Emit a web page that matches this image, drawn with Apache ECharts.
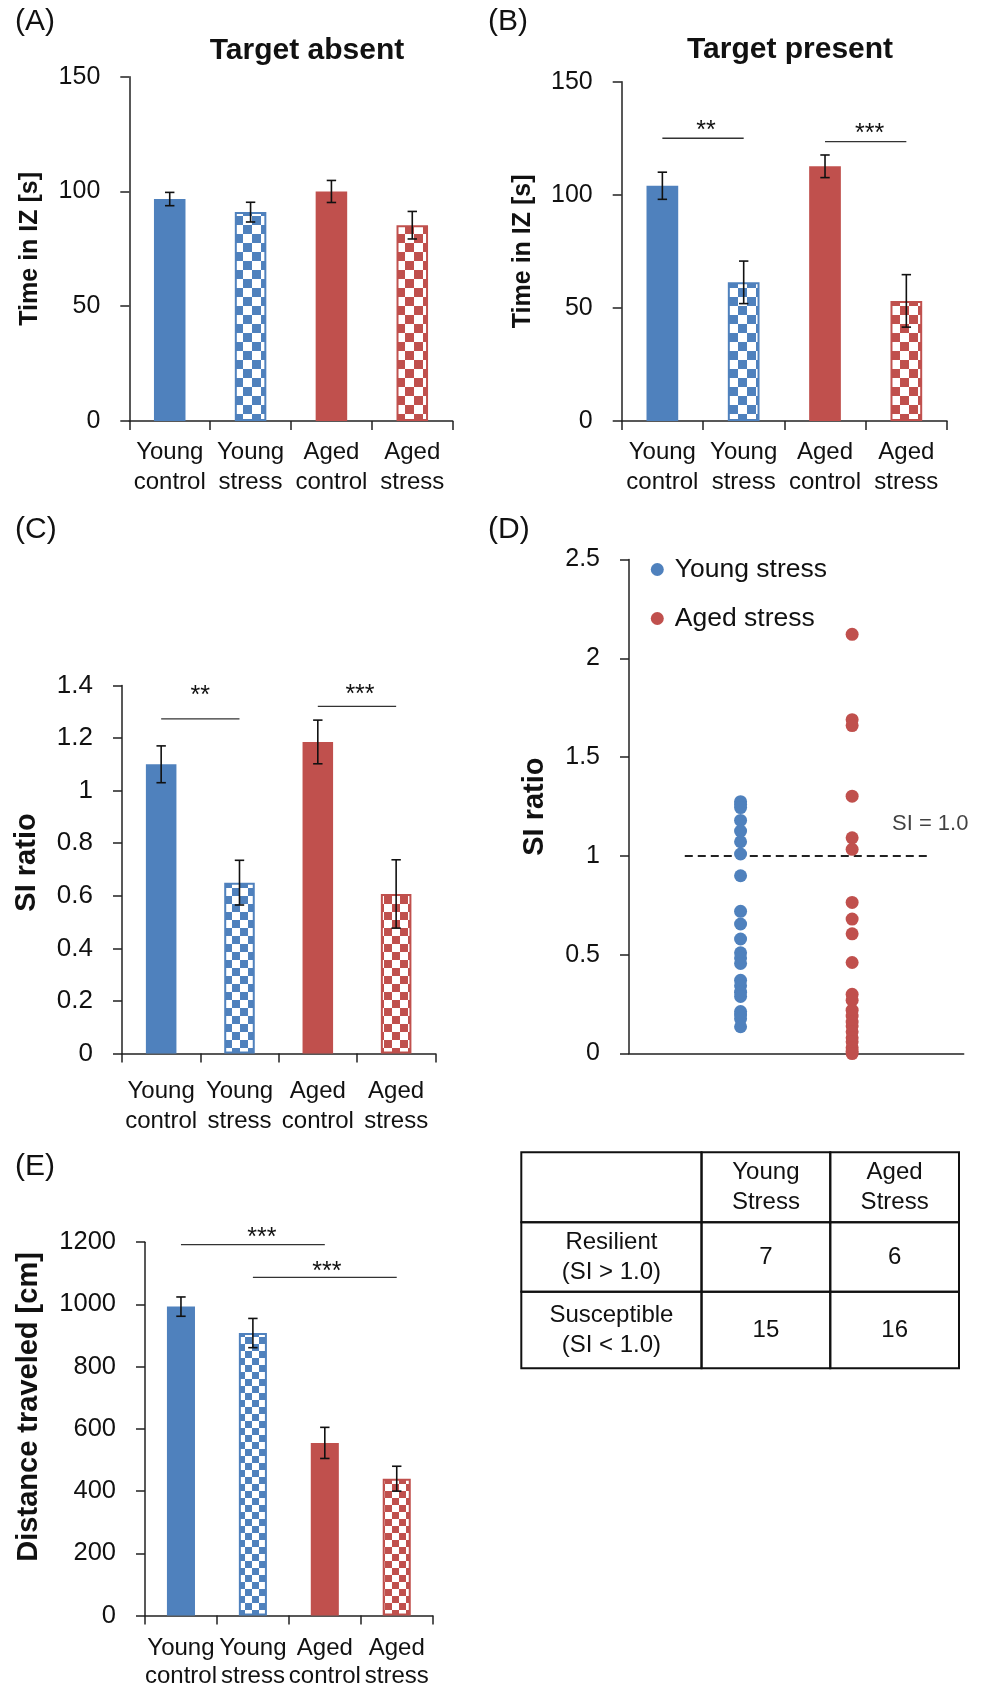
<!DOCTYPE html>
<html>
<head>
<meta charset="utf-8">
<script src="https://cdn.jsdelivr.net/npm/echarts@6.0.0/dist/echarts.min.js"></script>
<style>
html,body{margin:0;padding:0;background:#fff;}
#chart{width:987px;height:1688px;}
</style>
</head>
<body>
<div id="chart"></div>
<script>
// ---------------- data ----------------
const categories = ['Young\ncontrol', 'Young\nstress', 'Aged\ncontrol', 'Aged\nstress'];

const absentMean = [96.7, 91.0, 100.0, 85.3];
const absentErr  = [2.9, 4.3, 4.8, 6.0];

const presentMean = [104.0, 61.3, 112.6, 53.1];
const presentErr  = [6.0, 9.4, 5.0, 11.6];

const siMean = [1.10, 0.65, 1.185, 0.607];
const siErr  = [0.07, 0.085, 0.083, 0.13];

const distMean = [993, 908, 555, 440];
const distErr  = [31, 47, 50, 40];

// significance bars: [from category, to category, bar level, stars]
const sigPresent = [[0, 1, 125, '**'], [2, 3, 123.5, '***']];
const sigSI      = [[0, 1, 1.273, '**'], [2, 3, 1.32, '***']];
const sigDist    = [[0, 2, 1192, '***'], [1, 3, 1087, '***']];

// individual SI ratios (panel D)
const youngStressSI = [1.275, 1.26, 1.245, 1.18, 1.126, 1.072, 1.01,
  0.90, 0.72, 0.656, 0.58, 0.51, 0.484, 0.456, 0.371, 0.343, 0.311, 0.289, 0.213, 0.195, 0.176, 0.136];
const agedStressSI = [2.122, 1.69, 1.66, 1.303, 1.092, 1.034,
  0.765, 0.681, 0.606, 0.461, 0.30, 0.27, 0.22, 0.19, 0.16, 0.14, 0.11, 0.08, 0.06, 0.03, 0.012, 0.0];
const siThreshold = 1.0;
const siThresholdSpan = [0.5, 2.67];

// axis ticks
const ticksIZ   = {min: 0, max: 150, step: 50};
const ticksSI   = {min: 0, max: 1.4, step: 0.2};
const ticksSID  = {min: 0, max: 2.5, step: 0.5};
const ticksDist = {min: 0, max: 1200, step: 200};

// table
const tableColHeaders = ['Young\nStress', 'Aged\nStress'];
const tableRowHeaders = ['Resilient\n(SI > 1.0)', 'Susceptible\n(SI < 1.0)'];
const tableCounts = [[7, 6], [15, 16]];

// ---------------- style ----------------
const BLUE = '#4F81BD', RED = '#C0504D';
const INK = '#111';
const AX = '#222';
const FONT = "'Liberation Sans', Arial, Helvetica, sans-serif";

function checker(color, s) {
  const c = document.createElement('canvas');
  c.width = c.height = 2 * s;
  const g = c.getContext('2d');
  g.fillStyle = '#fff'; g.fillRect(0, 0, 2 * s, 2 * s);
  g.fillStyle = color; g.fillRect(0, 0, s, s); g.fillRect(s, s, s, s);
  return {image: c, repeat: 'repeat'};
}
function barItems(vals, s) {
  const edge = [BLUE, BLUE, RED, RED];
  return vals.map((v, i) => ({
    value: v,
    itemStyle: {
      color: i % 2 ? checker(edge[i], s) : edge[i],
      borderColor: edge[i],
      borderWidth: i % 2 ? 2 : 0
    }
  }));
}

const grids = [
  {left: 129.3, top: 76.7, width: 323.4, height: 344.3},   // A
  {left: 621.7, top: 81.7, width: 325.3, height: 339.3},   // B
  {left: 122, top: 685.4, width: 313.3, height: 368.2},    // C
  {left: 629, top: 559.6, width: 334.7, height: 494},      // D
  {left: 145, top: 1242.2, width: 287.7, height: 373.4},   // E
  {left: 521.3, top: 1152.3, width: 437.7, height: 216}    // table
].map(g => Object.assign({containLabel: false, outerBoundsMode: 'none'}, g));

function catX(gi, margin, lh) {
  return {
    type: 'category', gridIndex: gi, data: categories,
    axisLine: {lineStyle: {color: AX, width: 1.5}},
    axisTick: {show: true, length: 9, alignWithLabel: false, lineStyle: {color: AX, width: 1.5}},
    axisLabel: {interval: 0, margin: margin, color: INK, fontSize: 24, lineHeight: lh, fontFamily: FONT},
    splitLine: {show: false}
  };
}
function valY(gi, t, name, nameGap, nameSize, shift, labelSize) {
  return {
    type: 'value', gridIndex: gi, min: t.min, max: t.max, interval: t.step,
    name: name, nameLocation: 'middle', nameGap: nameGap, nameRotate: 90,
    nameTextStyle: {fontSize: nameSize, fontWeight: 'bold', color: INK, fontFamily: FONT,
      padding: shift ? [0, 0, 0, shift] : 0},
    axisLine: {show: true, lineStyle: {color: AX, width: 1.5}},
    axisTick: {show: true, length: 9, lineStyle: {color: AX, width: 1.5}},
    axisLabel: {margin: 29, fontSize: labelSize || 25, color: INK, fontFamily: FONT,
      formatter: v => String(+(+v).toFixed(6))},
    splitLine: {show: false}
  };
}

function barSeries(idx, vals, s) {
  return {type: 'bar', xAxisIndex: idx, yAxisIndex: idx, data: barItems(vals, s),
    barWidth: '39%', silent: true, z: 2};
}
function errSeries(idx, means, errs) {
  return {
    type: 'custom', xAxisIndex: idx, yAxisIndex: idx, silent: true, clip: false, z: 5,
    data: means.map((m, i) => [i, m, errs[i]]),
    renderItem(params, api) {
      const x = api.value(0), m = api.value(1), e = api.value(2);
      const t = api.coord([x, m + e]), b = api.coord([x, m - e]);
      const hw = 4.7, st = {stroke: '#111', lineWidth: 1.6};
      return {type: 'group', children: [
        {type: 'line', shape: {x1: t[0], y1: t[1], x2: b[0], y2: b[1]}, style: st},
        {type: 'line', shape: {x1: t[0] - hw, y1: t[1], x2: t[0] + hw, y2: t[1]}, style: st},
        {type: 'line', shape: {x1: b[0] - hw, y1: b[1], x2: b[0] + hw, y2: b[1]}, style: st}
      ]};
    }
  };
}
function sigSeries(idx, pairs, offs) {
  return {
    type: 'custom', xAxisIndex: idx, yAxisIndex: idx, silent: true, clip: false, z: 5,
    data: pairs.map(p => [p[0], p[2], p[1]]),
    renderItem(params, api) {
      const i = params.dataIndex, lvl = api.value(1);
      const a = api.coord([api.value(0), lvl]), b = api.coord([api.value(2), lvl]);
      const o = offs[i];
      return {type: 'group', children: [
        {type: 'line', shape: {x1: a[0], y1: a[1], x2: b[0], y2: b[1]}, style: {stroke: '#333', lineWidth: 1.3}},
        {type: 'text', style: {text: pairs[i][3], x: (a[0] + b[0]) / 2 + o[0], y: a[1] - o[1] + 6,
          align: 'center', verticalAlign: 'middle', font: '25px ' + FONT, fill: INK}}
      ]};
    }
  };
}

// table cells
const colEdges = [0, 1.4, 2.4, 3.4], rowEdges = [0, 0.972, 1.936, 3];
const cells = [];
for (let r = 0; r < 3; r++) for (let c = 0; c < 3; c++) {
  let txt = '';
  if (r === 0 && c > 0) txt = tableColHeaders[c - 1];
  else if (r > 0 && c === 0) txt = tableRowHeaders[r - 1];
  else if (r > 0 && c > 0) txt = String(tableCounts[r - 1][c - 1]);
  cells.push({c, r, txt});
}

const titleStyle = (sz, w) => ({fontSize: sz, fontWeight: w, color: INK, fontFamily: FONT});

const option = {
  backgroundColor: '#fff',
  animation: false,
  textStyle: {fontFamily: FONT},
  title: [
    {text: '(A)', left: 15, top: 7, padding: 0, textStyle: titleStyle(30, 'normal')},
    {text: '(B)', left: 488, top: 7, padding: 0, textStyle: titleStyle(30, 'normal')},
    {text: '(C)', left: 15, top: 515, padding: 0, textStyle: titleStyle(30, 'normal')},
    {text: '(D)', left: 488, top: 515, padding: 0, textStyle: titleStyle(30, 'normal')},
    {text: '(E)', left: 15, top: 1152, padding: 0, textStyle: titleStyle(30, 'normal')},
    {text: 'Target absent', left: 307, top: 36, padding: 0, textAlign: 'center', textStyle: titleStyle(30, 'bold')},
    {text: 'Target present', left: 790, top: 35, padding: 0, textAlign: 'center', textStyle: titleStyle(30, 'bold')}
  ],
  legend: {
    data: ['Young stress', 'Aged stress'], orient: 'vertical', left: 650.8, top: 556,
    itemWidth: 13, itemHeight: 13, itemGap: 22, icon: 'circle', padding: 0,
    textStyle: {fontSize: 26.5, color: INK, fontFamily: FONT, padding: [0, 0, 0, 6]}
  },
  grid: grids,
  xAxis: [
    catX(0, 16, 30),
    catX(1, 16, 30),
    catX(2, 22.6, 30),
    {type: 'value', gridIndex: 3, min: 0, max: 3,
      axisLine: {show: true, onZero: false, lineStyle: {color: AX, width: 1.5}},
      axisTick: {show: false}, axisLabel: {show: false}, splitLine: {show: false}},
    catX(4, 19, 28),
    {type: 'value', gridIndex: 5, min: 0, max: 3.4, show: false}
  ],
  yAxis: [
    valY(0, ticksIZ, 'Time in IZ [s]', 86.6, 25, 0, 25),
    valY(1, ticksIZ, 'Time in IZ [s]', 86, 25, 0, 25),
    valY(2, ticksSI, 'SI ratio', 81, 29, 14, 26),
    valY(3, ticksSID, 'SI ratio', 80, 29, 0, 25),
    valY(4, ticksDist, 'Distance traveled [cm]', 101.7, 29, 44, 25.5),
    {type: 'value', gridIndex: 5, min: 0, max: 3, inverse: true, show: false}
  ],
  series: [
    barSeries(0, absentMean, 9), errSeries(0, absentMean, absentErr),
    barSeries(1, presentMean, 9), errSeries(1, presentMean, presentErr),
    sigSeries(1, sigPresent, [[3, 13.3], [4, 14]]),
    barSeries(2, siMean, 8), errSeries(2, siMean, siErr),
    sigSeries(2, sigSI, [[0, 29], [3, 17]]),
    barSeries(4, distMean, 7), errSeries(4, distMean, distErr),
    sigSeries(4, sigDist, [[9, 12.4], [2, 11.2]]),
    {type: 'line', xAxisIndex: 3, yAxisIndex: 3, silent: true, z: 1, symbol: 'none',
      data: siThresholdSpan.map(x => [x, siThreshold]),
      lineStyle: {type: [8, 5], width: 2, color: '#222'}},
    {type: 'scatter', xAxisIndex: 3, yAxisIndex: 3, silent: true, symbolSize: 0,
      data: [[2.7, siThreshold]],
      label: {show: true, position: 'top', distance: 21, formatter: 'SI = ' + siThreshold.toFixed(1),
        fontSize: 22, color: INK, fontFamily: FONT}},
    {type: 'scatter', name: 'Young stress', xAxisIndex: 3, yAxisIndex: 3, z: 3,
      data: youngStressSI.map(v => [1, v]), symbolSize: 13, itemStyle: {color: BLUE, opacity: 1}},
    {type: 'scatter', name: 'Aged stress', xAxisIndex: 3, yAxisIndex: 3, z: 3,
      data: agedStressSI.map(v => [2, v]), symbolSize: 13, itemStyle: {color: RED, opacity: 1}},
    {type: 'custom', xAxisIndex: 5, yAxisIndex: 5, silent: true, clip: false,
      data: cells.map(c => [c.c, c.r]),
      renderItem(params, api) {
        const cell = cells[params.dataIndex];
        const p0 = api.coord([colEdges[cell.c], rowEdges[cell.r]]);
        const p1 = api.coord([colEdges[cell.c + 1], rowEdges[cell.r + 1]]);
        const x = Math.min(p0[0], p1[0]), y = Math.min(p0[1], p1[1]);
        const w = Math.abs(p1[0] - p0[0]), h = Math.abs(p1[1] - p0[1]);
        return {type: 'group', children: [
          {type: 'rect', shape: {x, y, width: w, height: h}, style: {fill: 'none', stroke: '#111', lineWidth: 2}},
          {type: 'text', style: {text: cell.txt, x: x + w / 2, y: y + h / 2, align: 'center', verticalAlign: 'middle',
            font: '24px ' + FONT, lineHeight: 30, fill: INK}}
        ]};
      }}
  ]
};

const chart = echarts.init(document.getElementById('chart'), null, {renderer: 'canvas'});
chart.setOption(option);
</script>
</body>
</html>
